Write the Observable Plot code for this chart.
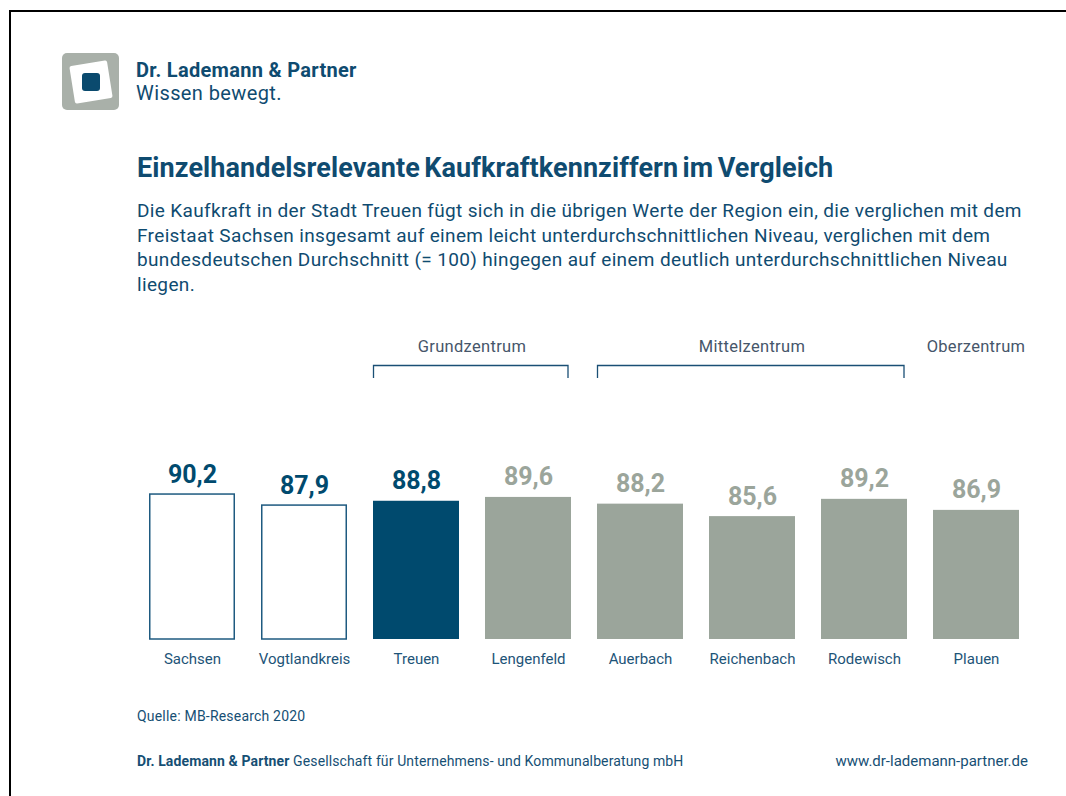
<!DOCTYPE html>
<html><head><meta charset="utf-8">
<script src="https://cdn.jsdelivr.net/npm/d3@7"></script>
<script src="https://cdn.jsdelivr.net/npm/@observablehq/plot@0.6"></script>
<style>
body{margin:0;background:#fff;font-family:Roboto,"Noto Sans",sans-serif;}
#page{position:relative;width:1066px;height:796px;overflow:hidden;background:#fff;}
#frame{position:absolute;left:9px;top:10px;right:-20px;bottom:-20px;border-top:2px solid #000;border-left:2px solid #000;}
.t{position:absolute;white-space:nowrap;color:#0f4b70;}
#brand{left:136px;top:58px;font-size:20px;font-weight:700;letter-spacing:0.3px;}
#slogan{left:136px;top:81px;font-size:20px;font-weight:400;letter-spacing:0.4px;}
#title{left:137px;top:152px;font-size:27px;font-weight:700;letter-spacing:0.1px;word-spacing:-2.5px;}
#sub{left:137px;top:199px;font-size:19px;line-height:24.5px;letter-spacing:0.35px;white-space:pre;}
#source{left:137px;top:708px;font-size:14px;letter-spacing:0.2px;color:#164f74;}
#foot{left:137px;top:753px;font-size:14px;letter-spacing:0.12px;color:#164f74;}
#url{right:38px;top:752px;font-size:15px;color:#164f74;}
#chart{position:absolute;left:0;top:330px;}
#logo{position:absolute;left:62px;top:53px;}
</style></head>
<body>
<div id="page">
<div id="frame"></div>
<svg id="logo" width="57" height="57" viewBox="0 0 57 57">
  <rect x="0" y="0" width="57" height="57" rx="5" fill="#a9b0a9"/>
  <rect x="10" y="10" width="38" height="38" rx="2" fill="#fff" transform="rotate(-9 29 29)"/>
  <rect x="20" y="20" width="18" height="18" rx="3" fill="#0a4a6e"/>
</svg>
<div class="t" id="brand">Dr. Lademann &amp; Partner</div>
<div class="t" id="slogan">Wissen bewegt.</div>
<div class="t" id="title">Einzelhandelsrelevante Kaufkraftkennziffern im Vergleich</div>
<div class="t" id="sub"></div>
<div id="chart"></div>
<div class="t" id="source"></div>
<div class="t" id="foot"><b>Dr. Lademann &amp; Partner</b> Gesellschaft für Unternehmens- und Kommunalberatung mbH</div>
<div class="t" id="url">www.dr-lademann-partner.de</div>
</div>
<script>
// ---- data ----
const categories = ["Sachsen","Vogtlandkreis","Treuen","Lengenfeld","Auerbach","Reichenbach","Rodewisch","Plauen"];
const values = [90.2, 87.9, 88.8, 89.6, 88.2, 85.6, 89.2, 86.9];
const styles = ["outline","outline","highlight","gray","gray","gray","gray","gray"];
const groupNames = ["Grundzentrum","Mittelzentrum","Oberzentrum"];
const groupFrom = ["Treuen","Auerbach","Plauen"];
const groupTo = ["Lengenfeld","Rodewisch","Plauen"];
const groupBracket = [true, true, false];
const baseValue = 60;
const subtitleLines = [
  "Die Kaufkraft in der Stadt Treuen fügt sich in die übrigen Werte der Region ein, die verglichen mit dem",
  "Freistaat Sachsen insgesamt auf einem leicht unterdurchschnittlichen Niveau, verglichen mit dem",
  "bundesdeutschen Durchschnitt (= 100) hingegen auf einem deutlich unterdurchschnittlichen Niveau",
  "liegen."
];
const sourceText = "Quelle: MB-Research 2020";

document.getElementById("sub").textContent = subtitleLines.join("\n");
document.getElementById("source").textContent = sourceText;

const BLUE = "#004a6e", GRAY = "#9ba59b", LINE = "#1e5a80", LABEL = "#1d5478", GROUP = "#46566a";
const data = categories.map((name, i) => ({name, value: values[i], style: styles[i]}));
const groups = groupNames.map((name, i) => ({name, from: groupFrom[i], to: groupTo[i], bracket: groupBracket[i]}));
const fmt = v => v.toLocaleString("de-DE", {minimumFractionDigits: 1, maximumFractionDigits: 1});

const groupMark = (index, scales) => {
  const g = d3.create("svg:g");
  const x = scales.x, bw = x.bandwidth();
  for (const grp of groups) {
    const x0 = x(grp.from), x1 = x(grp.to) + bw;
    if (grp.bracket) {
      g.append("path")
        .attr("d", `M${x0 + 0.5},48V35.5H${x1 - 3}V48`)
        .attr("fill", "none").attr("stroke", "#1a4f75").attr("stroke-width", 1.3);
    }
    g.append("text")
      .attr("x", (x0 + x1) / 2).attr("y", 16).attr("dy", "0.35em")
      .attr("text-anchor", "middle").attr("fill", GROUP)
      .attr("font-size", 16.5).attr("letter-spacing", "0.3px").attr("font-family", "Roboto, sans-serif")
      .text(grp.name);
  }
  return g.node();
};

const chart = Plot.plot({
  width: 1066, height: 350,
  marginLeft: 123, marginRight: 21, marginTop: 117, marginBottom: 41,
  style: {fontFamily: "Roboto, sans-serif", background: "transparent"},
  x: {domain: categories, padding: 0.232, label: null},
  y: {domain: [baseValue, 100], axis: null},
  marks: [
    Plot.barY(data.filter(d => d.style === "outline"), {x: "name", y1: () => baseValue, y2: "value", fill: "#fff", stroke: LINE, strokeWidth: 1.5, insetLeft: 0.75, insetRight: 0.75}),
    Plot.barY(data.filter(d => d.style === "highlight"), {x: "name", y1: () => baseValue, y2: "value", fill: BLUE}),
    Plot.barY(data.filter(d => d.style === "gray"), {x: "name", y1: () => baseValue, y2: "value", fill: GRAY}),
    Plot.text(data, {x: "name", y: "value", text: d => fmt(d.value), fill: d => d.style === "gray" ? GRAY : BLUE, fontSize: 25, fontWeight: 700, lineAnchor: "bottom", dy: -12}),
    Plot.axisX({tickSize: 0, tickPadding: 14, fontSize: 15, color: LABEL, label: null}),
    groupMark
  ]
});
document.getElementById("chart").appendChild(chart);
</script>
</body></html>
